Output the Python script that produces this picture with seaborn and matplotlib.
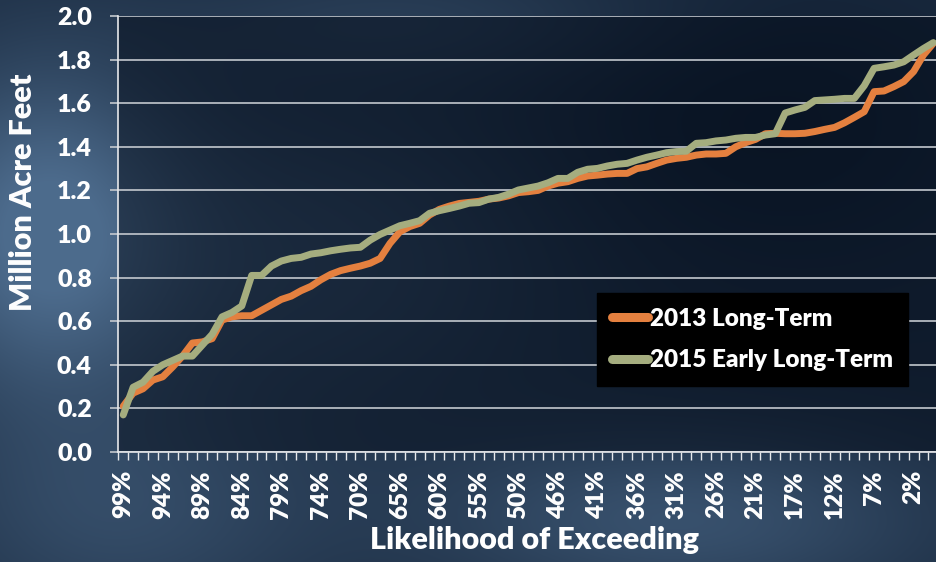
import numpy as np
import pandas as pd
import matplotlib
matplotlib.use("Agg")
import matplotlib.pyplot as plt
import seaborn as sns

# Exceedance tick labels (every fourth category is labelled)
likelihood_labels = ["99%", "94%", "89%", "84%", "79%", "74%", "70%", "65%", "60%",
                     "55%", "50%", "46%", "41%", "36%", "31%", "26%", "21%", "17%",
                     "12%", "7%", "2%"]
label_step = 4

series_names = ["2013 Long-Term", "2015 Early Long-Term"]

# Million acre-feet, ordered from highest to lowest likelihood of exceeding
long_term_2013 = [
    0.21, 0.27, 0.29, 0.33, 0.345, 0.39, 0.44, 0.50, 0.505, 0.52,
    0.605, 0.62, 0.625, 0.625, 0.65, 0.675, 0.70, 0.715, 0.74, 0.76,
    0.79, 0.815, 0.832, 0.843, 0.853, 0.866, 0.888, 0.957, 1.01, 1.034,
    1.049, 1.087, 1.113, 1.128, 1.14, 1.145, 1.15, 1.16, 1.165, 1.175,
    1.19, 1.194, 1.20, 1.22, 1.233, 1.24, 1.255, 1.266, 1.27, 1.275,
    1.278, 1.278, 1.30, 1.308, 1.324, 1.339, 1.347, 1.352, 1.362, 1.367,
    1.367, 1.37, 1.40, 1.419, 1.434, 1.46, 1.462, 1.46, 1.46, 1.462,
    1.47, 1.48, 1.489, 1.51, 1.535, 1.561, 1.653, 1.656, 1.676, 1.699,
    1.745, 1.821, 1.875,
]
early_long_term_2015 = [
    0.17, 0.297, 0.32, 0.37, 0.40, 0.42, 0.44, 0.44, 0.49, 0.54,
    0.62, 0.64, 0.67, 0.81, 0.81, 0.853, 0.876, 0.888, 0.893, 0.908,
    0.914, 0.923, 0.93, 0.936, 0.939, 0.972, 0.998, 1.018, 1.038, 1.049,
    1.061, 1.095, 1.107, 1.117, 1.128, 1.141, 1.144, 1.16, 1.168, 1.183,
    1.202, 1.211, 1.22, 1.235, 1.255, 1.255, 1.283, 1.297, 1.301, 1.312,
    1.32, 1.324, 1.339, 1.352, 1.362, 1.373, 1.378, 1.38, 1.416, 1.419,
    1.427, 1.431, 1.439, 1.443, 1.443, 1.454, 1.46, 1.555, 1.569, 1.581,
    1.612, 1.615, 1.618, 1.622, 1.622, 1.68, 1.76, 1.767, 1.775, 1.79,
    1.821, 1.851, 1.878,
]

line_colors = {"2013 Long-Term": "#E4803F", "2015 Early Long-Term": "#A5AD7F"}

n = len(long_term_2013)
df = pd.DataFrame({
    "position": np.concatenate([np.arange(n), np.arange(n)]),
    "value": long_term_2013 + early_long_term_2015,
    "series": [series_names[0]] * n + [series_names[1]] * n,
})

sns.set_style("dark")
plt.rcParams["font.family"] = ["Lato", "DejaVu Sans"]
plt.rcParams["font.weight"] = "bold"

W, H = 936, 562
fig = plt.figure(figsize=(W / 100, H / 100), dpi=100)

# Hazy navy backdrop built from smooth blobs
yy, xx = np.mgrid[0:H, 0:W].astype(float)
def blob(cx, cy, sx, sy, amp):
    return amp * np.exp(-(((xx - cx) / sx) ** 2 + ((yy - cy) / sy) ** 2))
w = (0.22
     + blob(40, 230, 140, 170, 0.75)
     + blob(300, 260, 260, 160, 0.30)
     + blob(680, 520, 260, 90, 0.45)
     + blob(120, 520, 200, 120, 0.35)
     + blob(420, 20, 260, 60, 0.20)
     - blob(760, 120, 240, 160, 0.18))
w = np.clip(w, 0, 1)[..., None]
dark = np.array([0.05, 0.10, 0.17])
light = np.array([0.30, 0.42, 0.55])
bg = dark * (1 - w) + light * w
bg_ax = fig.add_axes([0, 0, 1, 1], zorder=-5)
bg_ax.imshow(bg, aspect="auto", extent=(0, W, H, 0))
bg_ax.set_axis_off()

# Plot area in pixel terms
left, right, top, bottom = 118.3, 938.3, 16.0, 452.0
ax = fig.add_axes([left / W, 1 - bottom / H, (right - left) / W, (bottom - top) / H])
ax.set_facecolor((0.02, 0.05, 0.10, 0.5))

sns.lineplot(data=df, x="position", y="value", hue="series", palette=line_colors,
             linewidth=5.0, ax=ax, legend=True, solid_joinstyle="round",
             solid_capstyle="round")

ax.set_xlim(-0.5, n - 0.5)
ax.set_ylim(0, 2.0)
ax.set_yticks(np.arange(0, 2.01, 0.2))
ax.set_yticklabels([f"{v:.1f}" for v in np.arange(0, 2.01, 0.2)])

major_pos = np.arange(0, len(likelihood_labels) * label_step, label_step)
ax.set_xticks(major_pos)
ax.set_xticklabels(likelihood_labels, rotation=90)
ax.set_xticks(np.arange(-0.5, n, 1), minor=True)

grid_color = "#C3C8CE"
ax.grid(axis="y", color=grid_color, linewidth=1.2)
ax.grid(axis="x", visible=False)
ax.set_axisbelow(True)

for s in ["top", "right"]:
    ax.spines[s].set_visible(False)
for s in ["left", "bottom"]:
    ax.spines[s].set_visible(True)
    ax.spines[s].set_color("#E6E8EB")
    ax.spines[s].set_linewidth(1.2)

ax.tick_params(axis="x", which="major", length=0, pad=13, labelsize=17.5,
               labelcolor="white")
ax.tick_params(axis="x", which="minor", length=5.5, width=1.0, color="#E6E8EB",
               direction="out", bottom=True)
ax.tick_params(axis="y", which="major", length=6, width=1.2, color=grid_color,
               pad=13, labelsize=18, labelcolor="white", left=True)
for t in ax.get_xticklabels() + ax.get_yticklabels():
    t.set_fontweight("heavy")

ax.set_xlabel("Likelihood of Exceeding", fontsize=22, fontweight="heavy", color="white")
ax.xaxis.set_label_coords((535 - left) / (right - left), (bottom - 540) / (bottom - top))
ax.xaxis.label.set_va("center")
ax.set_ylabel("Million Acre Feet", fontsize=22, fontweight="heavy", color="white")
ax.yaxis.set_label_coords((23 - left) / (right - left), (bottom - 192) / (bottom - top))
ax.yaxis.label.set_va("center")

leg = ax.legend(loc="upper left", bbox_to_anchor=(597 / W, 1 - 293 / H),
                bbox_transform=fig.transFigure, borderaxespad=0,
                frameon=True, fancybox=False, fontsize=17.5,
                handlelength=1.5, handletextpad=0.1, labelspacing=0.8,
                borderpad=0.6, title=None)
leg.get_frame().set_facecolor("black")
leg.get_frame().set_edgecolor("black")
leg.get_frame().set_alpha(1)
for t in leg.get_texts():
    t.set_color("white")
    t.set_fontweight("heavy")
for h in leg.get_lines():
    h.set_linewidth(6.5)
    h.set_solid_capstyle("round")

fig.savefig("out.png", dpi=100)
